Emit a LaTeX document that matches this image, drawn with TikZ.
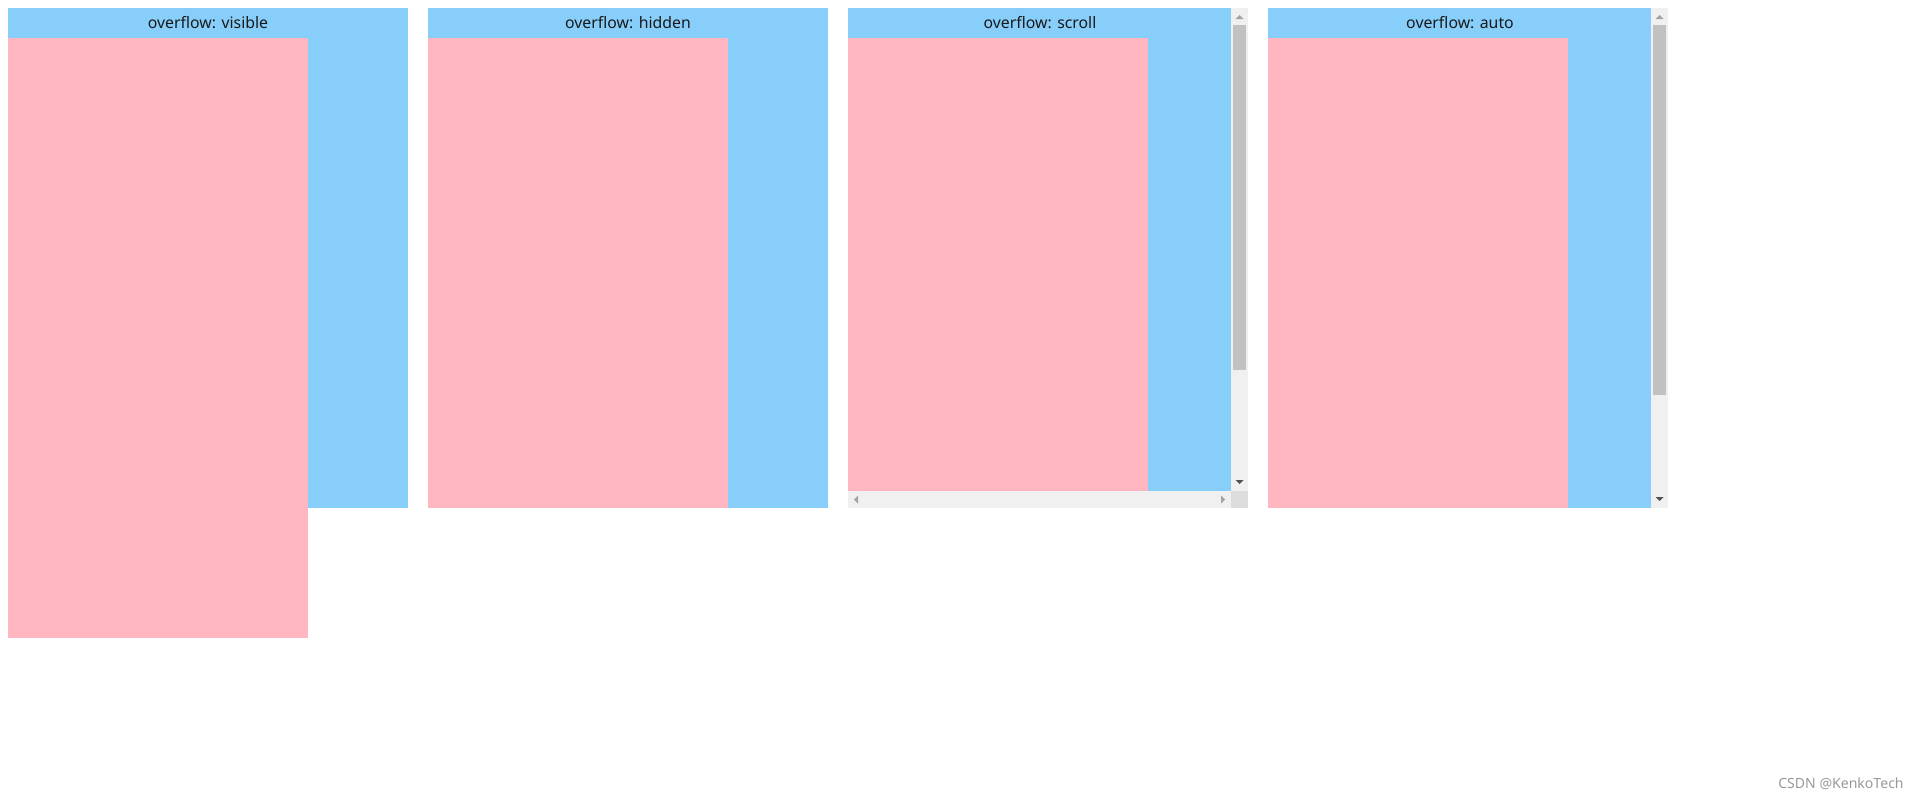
\documentclass[tikz,border=0pt]{standalone}
\usepackage{fontspec}
\setmainfont{Noto Sans}
\usepackage{xcolor}
\usetikzlibrary{positioning}

\definecolor{skyblue}{HTML}{87CEFA}
\definecolor{lightpink}{HTML}{FFB6C1}
\definecolor{track}{HTML}{F0F0F0}
\definecolor{thumb}{HTML}{C1C1C1}
\definecolor{corner}{HTML}{DCDCDC}
\definecolor{arrowoff}{HTML}{A3A3A3}
\definecolor{arrowon}{HTML}{505050}

\begin{document}
\begin{tikzpicture}[x=0.02cm, y=-0.02cm]
    \tikzset{
        panel/.style={fill=skyblue, rectangle, inner sep=0, outer sep=0, anchor=north west, minimum width=8cm, minimum height=10cm},
        child/.style={fill=lightpink, rectangle, inner sep=0, outer sep=0, anchor=north west, minimum width=6cm},
        title/.style={inner sep=0, font=\fontsize{9pt}{11pt}\selectfont, text=black!90},
        bar/.style={fill=track},
        knob/.style={fill=thumb},
        tip/.style={fill=arrowoff},
        tipon/.style={fill=arrowon}
    }
    \useasboundingbox (0,0) rectangle (1920,799);

    % panels
    \node [panel] (visible) at (8,8) {};
    \node [panel] (hidden) at (428,8) {};
    \node [panel] (scroll) at (848,8) {};
    \node [panel] (auto) at (1268,8) {};

    % pink contents
    \node [child, minimum height=12cm] (visiblein) at (8,38) {};
    \node [child, minimum height=9.4cm] (hiddenin) at (428,38) {};
    \node [child, minimum height=9.06cm] (scrollin) at (848,38) {};
    \node [child, minimum height=9.4cm] (autoin) at (1268,38) {};

    % headings
    \node [title] (visibletxt) at (208,23) {overflow: visible};
    \node [title] (hiddentxt) at (628,23) {overflow: hidden};
    \node [title] (scrolltxt) at (1040,23) {overflow: scroll};
    \node [title] (autotxt) at (1460,23) {overflow: auto};

    % scroll: vertical and horizontal bars
    \fill [bar] (1231,8) rectangle (1248,491);
    \fill [bar] (848,491) rectangle (1231,508);
    \fill [corner] (1231,491) rectangle (1248,508);
    \fill [knob] (1233,25) rectangle (1246,370);
    \fill [tip] (1235.5,19) -- (1243.5,19) -- (1239.5,15) -- cycle;
    \fill [tipon] (1235.5,480) -- (1243.5,480) -- (1239.5,484) -- cycle;
    \fill [tip] (858,495.5) -- (858,503.5) -- (854,499.5) -- cycle;
    \fill [tip] (1221,495.5) -- (1221,503.5) -- (1225,499.5) -- cycle;

    % auto: vertical bar
    \fill [bar] (1651,8) rectangle (1668,508);
    \fill [knob] (1653,25) rectangle (1666,395);
    \fill [tip] (1655.5,19) -- (1663.5,19) -- (1659.5,15) -- cycle;
    \fill [tipon] (1655.5,497) -- (1663.5,497) -- (1659.5,501) -- cycle;

    % watermark
    \node [inner sep=0, anchor=east, text=black!40, font=\fontsize{8pt}{9pt}\selectfont] (mark) at (1904,784) {CSDN @KenkoTech};
\end{tikzpicture}
\end{document}
